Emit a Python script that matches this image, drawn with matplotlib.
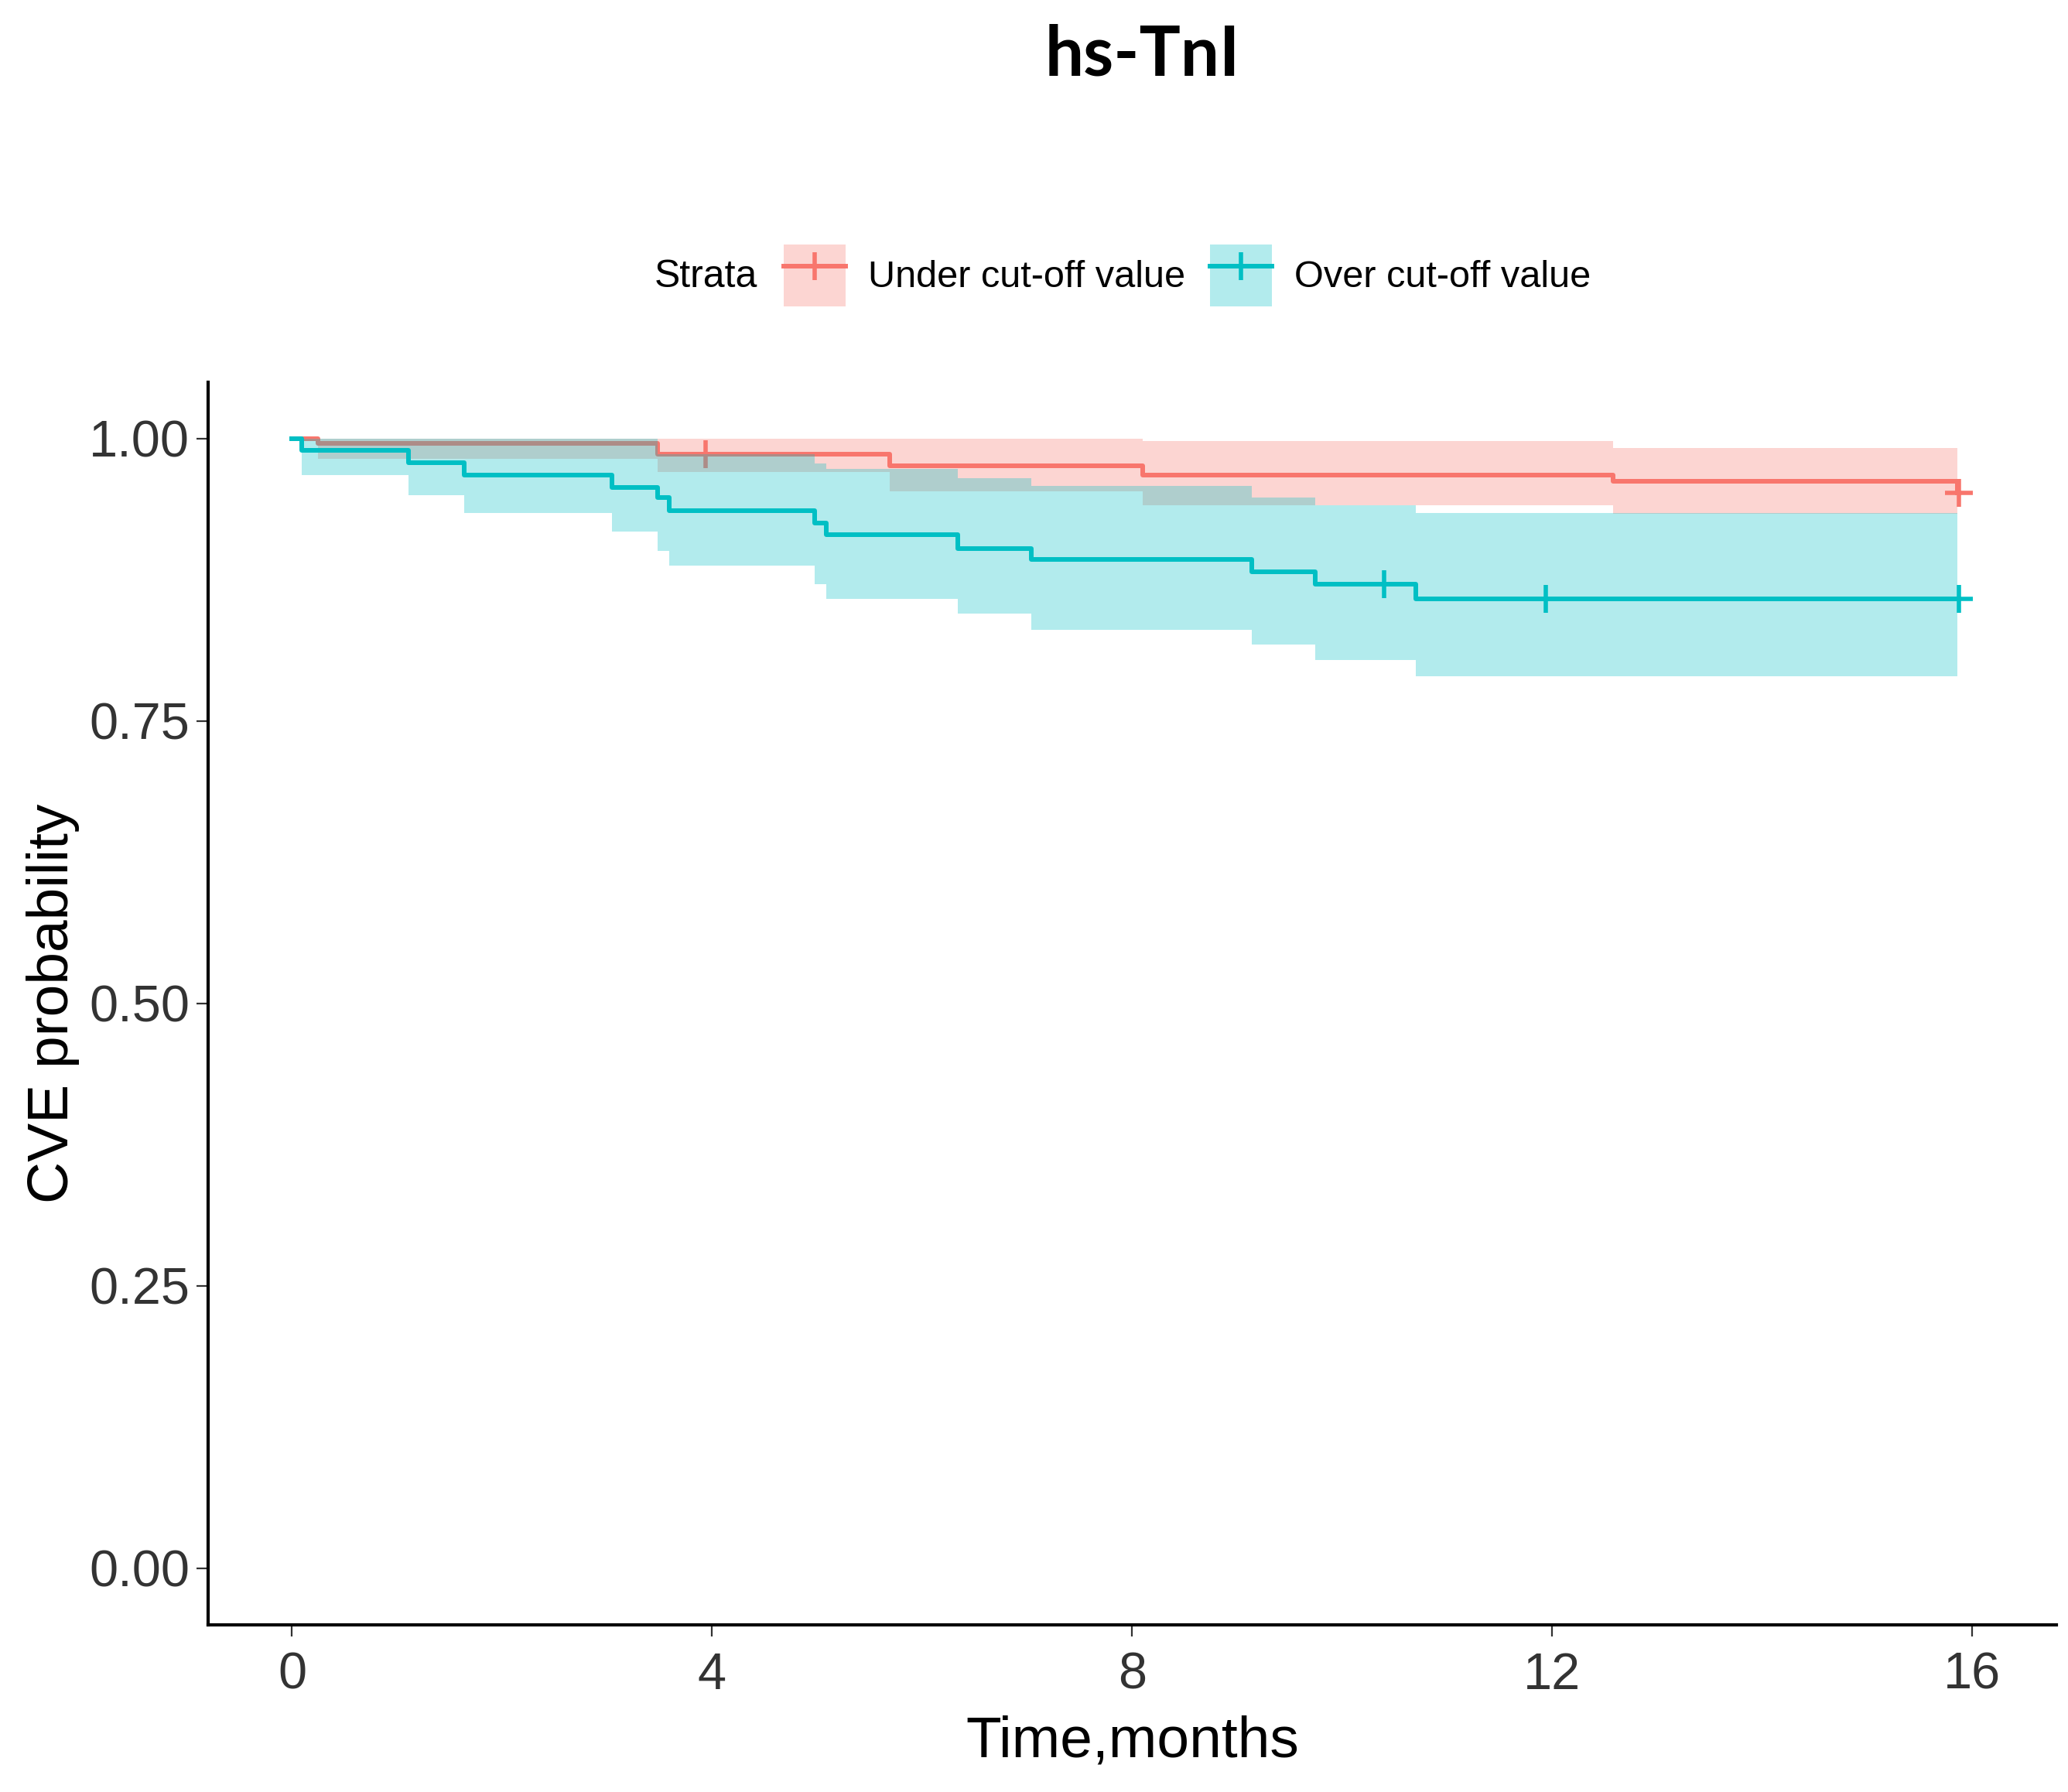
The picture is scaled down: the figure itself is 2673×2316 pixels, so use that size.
import numpy as np
import matplotlib
matplotlib.use('Agg')
import matplotlib.pyplot as plt
from matplotlib.patches import Patch
from matplotlib.lines import Line2D

plt.rcParams['font.family'] = ['Liberation Sans', 'DejaVu Sans']

# Kaplan-Meier steps (time in months)
under_time = [0, 0.25, 3.48, 5.69, 8.10, 12.58, 15.86]
under_surv = [1.0, 0.9957, 0.9865, 0.976, 0.968, 0.9625, 0.952]
under_lower = [1.0, 0.982, 0.9705, 0.9534, 0.941, 0.9336, 0.9336]
under_upper = [1.0, 1.0, 1.0, 1.0, 0.998, 0.992, 0.992]
under_censor = [3.94, 15.87]

over_time = [0, 0.09, 1.11, 1.64, 3.05, 3.48, 3.59, 4.98, 5.09, 6.34, 7.04, 9.14, 9.74, 10.70, 15.86]
over_surv = [1.0, 0.990, 0.979, 0.968, 0.957, 0.948, 0.936, 0.925, 0.915, 0.903, 0.893, 0.882, 0.871, 0.858, 0.858]
over_lower = [1.0, 0.968, 0.950, 0.934, 0.918, 0.901, 0.888, 0.871, 0.858, 0.845, 0.831, 0.818, 0.804, 0.790, 0.790]
over_upper = [1.0, 1.0, 1.0, 1.0, 1.0, 0.9865, 0.9865, 0.978, 0.973, 0.965, 0.958, 0.948, 0.941, 0.934, 0.934]
over_censor = [10.40, 11.94, 15.87]

strata_labels = ['Under cut-off value', 'Over cut-off value']
strata_colors = ['#F8766D', '#00BFC4']

x_ticks = [0, 4, 8, 12, 16]
y_ticks = [0.0, 0.25, 0.50, 0.75, 1.00]
y_tick_labels = ['0.00', '0.25', '0.50', '0.75', '1.00']


def surv_at(times, surv, t):
    # value of the step curve at time t
    idx = np.searchsorted(times, t, side='right') - 1
    return np.asarray(surv)[idx]


fig = plt.figure(figsize=(26.73, 23.16), dpi=100)
ax = fig.add_axes([0.1006, 0.0933, 0.8937, 0.6934])

groups = [
    (under_time, under_surv, under_lower, under_upper, under_censor),
    (over_time, over_surv, over_lower, over_upper, over_censor),
]
z = 1
for (t, s, lo, up, cens), color in zip(groups, strata_colors):
    ax.fill_between(t, lo, up, step='post', color=color, alpha=0.3, linewidth=0, zorder=z)
    ax.step(t, s, where='post', color=color, linewidth=4.3, zorder=z + 1)
    cens_s = [surv_at(t, s, c) for c in cens]
    ax.plot(cens, cens_s, linestyle='none', marker='+', markersize=26,
            markeredgewidth=4, color=color, zorder=z + 1)
    z += 2

ax.set_xlim(-0.8, 16.8)
ax.set_ylim(-0.05, 1.05)
ax.set_xticks(x_ticks)
ax.set_yticks(y_ticks)
ax.set_yticklabels(y_tick_labels)

for side in ['top', 'right']:
    ax.spines[side].set_visible(False)
for side in ['left', 'bottom']:
    ax.spines[side].set_linewidth(3)
    ax.spines[side].set_color('black')

ax.tick_params(axis='both', length=11, width=1.6, color='#333333',
               labelsize=48, labelcolor='#333333')
ax.tick_params(axis='x', pad=14)
ax.tick_params(axis='y', pad=6)

ax.set_xlabel('Time,months', fontsize=54, labelpad=14)
ax.set_ylabel('CVE probability', fontsize=54, labelpad=9)

# legend on top: "Strata" then the two keys
handles = []
for color in strata_colors:
    handles.append((Patch(facecolor=color, alpha=0.3, edgecolor='none'),
                    Line2D([], [], color=color, linewidth=4.3, marker='+',
                           markersize=26, markeredgewidth=4)))
fig.text(846 / 2673, 1 - 358 / 2316, 'Strata', fontsize=36, ha='left', va='center')
fig.legend(handles, strata_labels, loc='center left',
           bbox_to_anchor=(1013 / 2673, 1 - 356 / 2316), ncol=2, frameon=False,
           fontsize=35, borderpad=0, borderaxespad=0, handlelength=1.65,
           handleheight=2.15, handletextpad=0.6, columnspacing=0.65)

fig.text(0.5526, 0.969, 'hs-TnI', fontsize=64, fontweight='bold',
         family=['Lato', 'DejaVu Sans'], ha='center', va='center')

fig.savefig('out.png', dpi=100)
